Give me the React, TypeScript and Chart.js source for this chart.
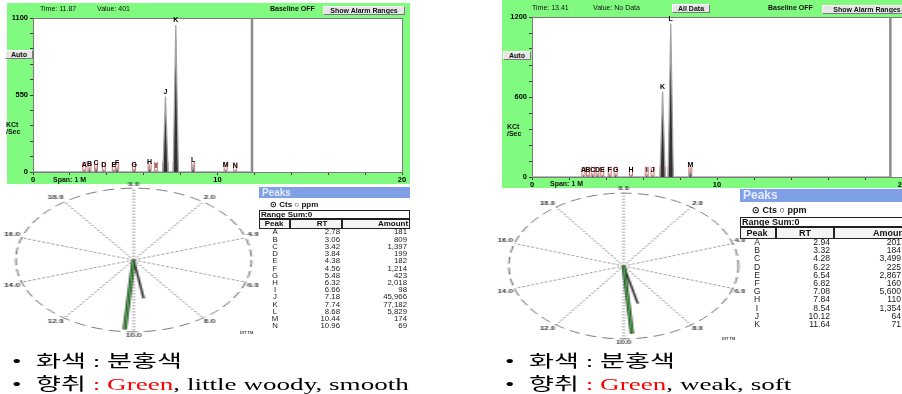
import React, { useEffect, useRef } from 'react';
import { Chart, registerables } from 'chart.js';

Chart.register(...registerables);

// ---------------- DATA ----------------
// Left sample: chromatogram peaks (letters / retention time / apex height) and peak table
const leftPeakLetters = ['A', 'B', 'C', 'D', 'E', 'F', 'G', 'H', 'I', 'J', 'K', 'L', 'M', 'N'];
const leftPeakRT = [2.78, 3.06, 3.42, 3.84, 4.38, 4.56, 5.48, 6.32, 6.66, 7.18, 7.74, 8.68, 10.44, 10.96];
const leftPeakHeight = [15, 25, 30, 15, 15, 30, 20, 40, 10, 540, 1050, 50, 15, 10];
const leftPeakAmount = ['181', '809', '1,397', '199', '182', '1,214', '423', '2,018', '98', '45,966', '77,182', '5,829', '174', '69'];
const leftCursorTime = 11.87;
const leftYMax = 1100;
const leftYStep = 110;
const leftYLabelEvery = 550;

// Right sample: chromatogram peaks as labelled on the trace
const rightTraceLetters = ['A', 'B', 'C', 'D', 'E', 'F', 'G', 'H', 'I', 'J', 'K', 'L', 'M'];
const rightTraceRT = [2.78, 3.02, 3.28, 3.54, 3.8, 4.2, 4.52, 5.35, 6.2, 6.52, 7.06, 7.5, 8.56];
const rightTraceHeight = [15, 15, 20, 20, 15, 20, 20, 15, 20, 15, 640, 1150, 55];
const rightCursorTime = 19.37;
const rightYMax = 1200;
const rightYStep = 120;
const rightYLabelEvery = 600;
// Right sample: peak table
const rightTableLetters = ['A', 'B', 'C', 'D', 'E', 'F', 'G', 'H', 'I', 'J', 'K'];
const rightTableRT = ['2.94', '3.32', '4.28', '6.22', '6.54', '6.82', '7.08', '7.84', '8.54', '10.12', '11.64'];
const rightTableAmount = ['201', '184', '3,499', '225', '2,867', '160', '5,600', '110', '1,354', '64', '71'];

// VaporPrint polar plots
const spokeLabels = ['0.0', '2.0', '4.0', '6.0', '8.0', '10.0', '12.0', '14.0', '16.0', '18.0'];
const leftVectorRT = [10.25, 9.5];
const leftVectorMag = [0.97, 0.54];
const rightVectorRT = [9.75, 9.25];
const rightVectorMag = [0.93, 0.53];

// ---------------- STYLE ----------------
const GREEN = '#80fb80';
const FONT = "'Liberation Sans', Arial, sans-serif";
const SUB = 8; // angular slots per spoke

const plotAreaPlugin = {
  id: 'plotArea',
  beforeDraw(chart: any) {
    const { ctx, chartArea: a } = chart;
    ctx.save();
    ctx.fillStyle = '#ffffff';
    ctx.fillRect(a.left, a.top, a.right - a.left, a.bottom - a.top);
    ctx.restore();
  },
  beforeDatasetsDraw(chart: any) {
    const { ctx, chartArea: a } = chart;
    ctx.save();
    ctx.strokeStyle = '#7a7a7a';
    ctx.lineWidth = 1;
    ctx.strokeRect(Math.round(a.left) + 0.5, Math.round(a.top) + 0.5, Math.round(a.right - a.left), Math.round(a.bottom - a.top));
    ctx.restore();
  },
};

function makeLabelPlugin(letters: string[], rts: number[], hs: number[]) {
  return {
    id: 'peakLabels',
    afterDatasetsDraw(chart: any) {
      const { ctx } = chart;
      const x = chart.scales.x;
      const y = chart.scales.y;
      ctx.save();
      ctx.font = `bold 7px ${FONT}`;
      ctx.fillStyle = '#000';
      ctx.textAlign = 'center';
      ctx.textBaseline = 'bottom';
      letters.forEach((l, i) => {
        ctx.fillText(l, x.getPixelForValue(rts[i]), y.getPixelForValue(hs[i]) - 1);
      });
      ctx.restore();
    },
  };
}

type ChromProps = {
  width: number;
  height: number;
  letters: string[];
  rts: number[];
  hs: number[];
  cursor: number;
  ymax: number;
  ystep: number;
  yLabelEvery: number;
  yAxisWidth: number;
  xAxisHeight: number;
  padTop: number;
  padRight: number;
};

function ChromChart(p: ChromProps) {
  const ref = useRef<HTMLCanvasElement>(null);
  useEffect(() => {
    const trace: { x: number; y: number }[] = [{ x: 0, y: 0 }];
    const markers: { x: number; y: number }[] = [];
    const markerY = p.ymax * 0.033;
    p.rts.forEach((r, i) => {
      const w = p.hs[i] > 300 ? 0.14 : 0.08;
      trace.push({ x: r - w, y: 0 }, { x: r, y: p.hs[i] }, { x: r + w, y: 0 });
      markers.push({ x: r - w, y: markerY }, { x: r + w, y: markerY });
    });
    trace.push({ x: p.cursor, y: 0 });

    const chart = new Chart(ref.current as HTMLCanvasElement, {
      type: 'line',
      data: {
        datasets: [
          {
            data: trace,
            borderColor: '#a4a4a4',
            borderWidth: 1.3,
            backgroundColor: '#333333',
            fill: 'origin',
            pointRadius: 0,
            tension: 0,
          } as any,
          {
            type: 'scatter',
            data: markers,
            pointStyle: 'line',
            rotation: 90,
            radius: 5,
            borderColor: '#e86a6a',
            borderWidth: 1,
          } as any,
          {
            data: [
              { x: p.cursor, y: 0 },
              { x: p.cursor, y: p.ymax },
            ],
            borderColor: '#8a8a8a',
            borderWidth: 2.5,
            pointRadius: 0,
          } as any,
        ],
      },
      options: {
        animation: false,
        responsive: false,
        events: [],
        layout: { padding: { top: p.padTop, right: p.padRight, left: 0, bottom: 0 } },
        plugins: { legend: { display: false }, tooltip: { enabled: false } },
        scales: {
          x: {
            type: 'linear',
            min: 0,
            max: 20,
            afterFit: (s: any) => {
              s.height = p.xAxisHeight;
            },
            ticks: {
              stepSize: 2,
              autoSkip: false,
              maxRotation: 0,
              padding: 0,
              color: '#000',
              font: { family: FONT, size: 7.5, weight: 'bold' },
              callback: (v: any) => (Number(v) % 10 === 0 ? String(v) : ''),
            },
            grid: { drawOnChartArea: false, tickLength: 3, color: '#404040' },
            border: { display: false },
          },
          y: {
            min: 0,
            max: p.ymax,
            afterFit: (s: any) => {
              s.width = p.yAxisWidth;
            },
            ticks: {
              stepSize: p.ystep,
              autoSkip: false,
              padding: 2,
              color: '#000',
              font: { family: FONT, size: 7.5, weight: 'bold' },
              callback: (v: any) => (Number(v) % p.yLabelEvery === 0 ? String(v) : ''),
            },
            grid: { drawOnChartArea: false, tickLength: 3, color: '#404040' },
            border: { display: false },
          },
        },
      } as any,
      plugins: [plotAreaPlugin, makeLabelPlugin(p.letters, p.rts, p.hs)],
    });
    return () => chart.destroy();
  }, []);
  return <canvas ref={ref} width={p.width} height={p.height} style={{ display: 'block' }} />;
}

function PolarChart({ rts, mags, size }: { rts: number[]; mags: number[]; size: number }) {
  const ref = useRef<HTMLCanvasElement>(null);
  useEffect(() => {
    const labels: string[] = spokeLabels.flatMap((l) => [l, ...Array(SUB - 1).fill('')]);
    const slotOf = (rt: number) => Math.round((rt / 20) * labels.length) % labels.length;
    const vec = (i: number) => labels.map((_, k) => (k === slotOf(rts[i]) ? mags[i] : 0));
    const chart = new Chart(ref.current as HTMLCanvasElement, {
      type: 'radar',
      data: {
        labels,
        datasets: [
          { data: vec(0), borderColor: '#4caf4c', borderWidth: 1.2, pointRadius: 0, fill: false },
          { data: vec(0), borderColor: '#1f331f', borderWidth: 2.6, pointRadius: 0, fill: false },
          { data: vec(1), borderColor: '#2a2a2a', borderWidth: 1.4, pointRadius: 0, fill: false },
        ],
      },
      options: {
        animation: false,
        responsive: false,
        events: [],
        layout: { padding: 0 },
        plugins: { legend: { display: false }, tooltip: { enabled: false } },
        scales: {
          r: {
            min: 0,
            max: 1,
            ticks: { display: false, stepSize: 1 },
            grid: { circular: true, color: '#7a7a7a', lineWidth: 1 },
            border: { dash: [7, 4] },
            angleLines: {
              color: (c: any) => (c.index % SUB === 0 ? '#6a6a6a' : 'rgba(0,0,0,0)'),
              lineWidth: 0.8,
              borderDash: [1.5, 1.5],
            },
            pointLabels: {
              color: '#333',
              padding: 1,
              font: { family: FONT, size: 5, weight: 'bold' },
            },
          },
        },
      } as any,
    });
    return () => chart.destroy();
  }, []);
  return <canvas ref={ref} width={size} height={size} style={{ display: 'block' }} />;
}

const abs = (s: React.CSSProperties): React.CSSProperties => ({ position: 'absolute', ...s });
const small = (size: number, bold = false): React.CSSProperties => ({
  fontFamily: FONT,
  fontSize: size,
  fontWeight: bold ? 'bold' : 'normal',
  whiteSpace: 'nowrap',
  color: '#111',
});

function Btn({ x, y, w, h, text }: { x: number; y: number; w: number; h: number; text: string }) {
  return (
    <div
      style={abs({
        left: x,
        top: y,
        width: w,
        height: h,
        boxSizing: 'border-box',
        background: '#e6e6e6',
        borderStyle: 'solid',
        borderWidth: 1,
        borderColor: '#ffffff #7a7a7a #7a7a7a #ffffff',
        textAlign: 'center',
        lineHeight: h - 2 + 'px',
        overflow: 'hidden',
        ...small(7, true),
      })}
    >
      {text}
    </div>
  );
}

type TableGeom = {
  left: number;
  right: number;
  barTop: number;
  barH: number;
  barFont: number;
  ctsY: number;
  ctsX: number;
  ctsFont: number;
  rangeTop: number;
  rangeH: number;
  headTop: number;
  headH: number;
  headFont: number;
  cols: number[];
  headCenters: number[];
  rowY0: number;
  rowStep: number;
  font: number;
  letterX: number;
  rtRight: number;
  amtRight: number;
};

function PeaksTable({ g, letters, rts, amounts }: { g: TableGeom; letters: string[]; rts: string[]; amounts: string[] }) {
  const heads = ['Peak', 'RT', 'Amount'];
  return (
    <>
      <div style={abs({ left: g.left, top: g.barTop, width: g.right - g.left, height: g.barH, background: '#7f9fe6' })}>
        <span style={abs({ left: 3, top: 0, lineHeight: g.barH + 'px', ...small(g.barFont, true), color: '#e4ebff' })}>Peaks</span>
      </div>
      <div style={abs({ left: g.ctsX, top: g.ctsY - 6, height: 12, lineHeight: '12px', ...small(g.ctsFont, true) })}>⊙ Cts ○ ppm</div>
      <div
        style={abs({
          left: g.left,
          top: g.rangeTop,
          width: g.right - g.left,
          height: g.rangeH,
          boxSizing: 'border-box',
          border: '1px solid #222',
          lineHeight: g.rangeH - 2 + 'px',
          paddingLeft: 1,
          ...small(g.ctsFont, true),
        })}
      >
        Range Sum:0
      </div>
      {heads.map((h, i) => (
        <div
          key={h}
          style={abs({
            left: g.cols[i],
            top: g.headTop,
            width: g.cols[i + 1] - g.cols[i],
            height: g.headH,
            boxSizing: 'border-box',
            borderStyle: 'solid',
            borderWidth: 1,
            borderColor: '#222 #222 #222 #222',
            background: '#f4f4f4',
          })}
        />
      ))}
      {heads.map((h, i) => (
        <div
          key={'t' + h}
          style={abs({
            left: g.headCenters[i] - 30,
            width: 60,
            top: g.headTop,
            height: g.headH,
            lineHeight: g.headH + 'px',
            textAlign: 'center',
            ...small(g.headFont, true),
          })}
        >
          {h}
        </div>
      ))}
      {letters.map((l, i) => {
        const top = g.rowY0 - g.rowStep / 2 + i * g.rowStep;
        const row: React.CSSProperties = { top, height: g.rowStep, lineHeight: g.rowStep + 'px', ...small(g.font), color: '#222' };
        return (
          <React.Fragment key={l}>
            <div style={abs({ left: g.letterX - 10, width: 20, textAlign: 'center', ...row })}>{l}</div>
            <div style={abs({ left: g.rtRight - 40, width: 40, textAlign: 'right', ...row })}>{rts[i]}</div>
            <div style={abs({ left: g.amtRight - 40, width: 40, textAlign: 'right', ...row })}>{amounts[i]}</div>
          </React.Fragment>
        );
      })}
    </>
  );
}

const leftTable: TableGeom = {
  left: 259,
  right: 410,
  barTop: 187,
  barH: 11,
  barFont: 10,
  ctsY: 205,
  ctsX: 270,
  ctsFont: 8,
  rangeTop: 210,
  rangeH: 9,
  headTop: 219,
  headH: 10,
  headFont: 8,
  cols: [259, 290, 342, 410],
  headCenters: [274, 322, 393],
  rowY0: 232,
  rowStep: 7.23,
  font: 7.8,
  letterX: 275,
  rtRight: 340,
  amtRight: 407,
};

const rightTable: TableGeom = {
  left: 740,
  right: 910,
  barTop: 189,
  barH: 13,
  barFont: 12,
  ctsY: 210,
  ctsX: 752,
  ctsFont: 9,
  rangeTop: 217,
  rangeH: 10,
  headTop: 227,
  headH: 12,
  headFont: 9,
  cols: [740, 776, 834, 946],
  headCenters: [757, 805, 890],
  rowY0: 242,
  rowStep: 8.2,
  font: 8.6,
  letterX: 757,
  rtRight: 830,
  amtRight: 901,
};

function Bullet({ x, y, children }: { x: number; y: number; children: React.ReactNode }) {
  return (
    <div
      style={abs({
        left: x,
        top: y - 12,
        height: 24,
        lineHeight: '24px',
        fontFamily: "'Liberation Serif', 'Noto Sans CJK KR', serif",
        fontSize: 17.5,
        color: '#000',
        whiteSpace: 'nowrap',
        transform: 'scaleX(1.55)',
        transformOrigin: 'left center',
      })}
    >
      <span style={{ display: 'inline-block', width: 15.5 }}>•</span>
      {children}
    </div>
  );
}

export default function App() {
  return (
    <div style={{ position: 'fixed', left: 0, top: 0, width: 902, height: 394, overflow: 'hidden', background: '#fff' }}>
      {/* left chromatogram */}
      <div style={abs({ left: 7, top: 3, width: 403, height: 181, background: GREEN, overflow: 'hidden' })}>
        <ChromChart
          width={403}
          height={181}
          letters={leftPeakLetters}
          rts={leftPeakRT}
          hs={leftPeakHeight}
          cursor={leftCursorTime}
          ymax={leftYMax}
          ystep={leftYStep}
          yLabelEvery={leftYLabelEvery}
          yAxisWidth={26}
          xAxisHeight={12}
          padTop={15}
          padRight={8}
        />
      </div>
      <div style={abs({ left: 40, top: 5, ...small(7) })}>Time: 11.87</div>
      <div style={abs({ left: 97, top: 5, ...small(7) })}>Value: 401</div>
      <div style={abs({ left: 270, top: 5, ...small(7, true) })}>Baseline OFF</div>
      <Btn x={323} y={6} w={82} h={9} text="Show Alarm Ranges" />
      <Btn x={5} y={50} w={28} h={9} text="Auto" />
      <div style={abs({ left: 6, top: 121, ...small(7, true), lineHeight: '7px' })}>
        KCt
        <br />
        /Sec
      </div>
      <div style={abs({ left: 53, top: 176, ...small(7, true) })}>Span: 1 M</div>

      {/* right chromatogram */}
      <div style={abs({ left: 502, top: 0, width: 400, height: 188, background: GREEN, overflow: 'hidden' })}>
        <ChromChart
          width={410}
          height={188}
          letters={rightTraceLetters}
          rts={rightTraceRT}
          hs={rightTraceHeight}
          cursor={rightCursorTime}
          ymax={rightYMax}
          ystep={rightYStep}
          yLabelEvery={rightYLabelEvery}
          yAxisWidth={30}
          xAxisHeight={11}
          padTop={17}
          padRight={10}
        />
      </div>
      <div style={abs({ left: 532, top: 4, ...small(7) })}>Time: 13.41</div>
      <div style={abs({ left: 593, top: 4, ...small(7) })}>Value: No Data</div>
      <Btn x={672} y={4} w={38} h={9} text="All Data" />
      <div style={abs({ left: 768, top: 4, ...small(7, true) })}>Baseline OFF</div>
      <Btn x={822} y={5} w={90} h={9} text="Show Alarm Ranges" />
      <Btn x={503} y={51} w={28} h={9} text="Auto" />
      <div style={abs({ left: 507, top: 123, ...small(7, true), lineHeight: '7px' })}>
        KCt
        <br />
        /Sec
      </div>
      <div style={abs({ left: 550, top: 180, ...small(7, true) })}>Span: 1 M</div>

      {/* polar plots */}
      <div style={abs({ left: 132 - 79, top: 260 - 79, width: 158, height: 158, transform: 'scaleX(1.64)', transformOrigin: 'center' })}>
        <PolarChart rts={leftVectorRT} mags={leftVectorMag} size={158} />
      </div>
      <div style={abs({ left: 240, top: 330, ...small(4, true), color: '#444' })}>DIT TM</div>
      <div style={abs({ left: 622 - 80, top: 266 - 80, width: 160, height: 160, transform: 'scaleX(1.575)', transformOrigin: 'center' })}>
        <PolarChart rts={rightVectorRT} mags={rightVectorMag} size={160} />
      </div>
      <div style={abs({ left: 722, top: 336, ...small(4, true), color: '#444' })}>DIT TM</div>

      {/* peak tables */}
      <PeaksTable g={leftTable} letters={leftPeakLetters} rts={leftPeakRT.map((v) => v.toFixed(2))} amounts={leftPeakAmount} />
      <PeaksTable g={rightTable} letters={rightTableLetters} rts={rightTableRT} amounts={rightTableAmount} />

      {/* notes */}
      <Bullet x={12} y={361}>
        화색 : 분홍색
      </Bullet>
      <Bullet x={12} y={384}>
        향취<span style={{ color: '#ff0000' }}> : Green</span>, little woody, smooth
      </Bullet>
      <Bullet x={505} y={361}>
        화색 : 분홍색
      </Bullet>
      <Bullet x={505} y={384}>
        향취<span style={{ color: '#ff0000' }}> : Green</span>, weak, soft
      </Bullet>
    </div>
  );
}
